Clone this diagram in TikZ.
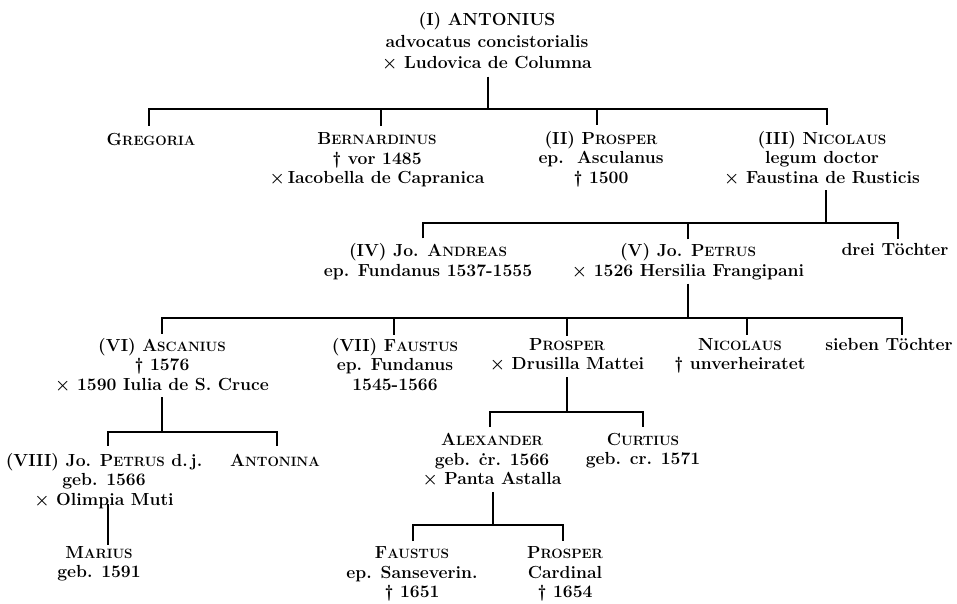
\documentclass[tikz,border=0pt]{standalone}
\newcommand\sca[2]{#1{\fontsize{13.5}{13.5}\selectfont #2}}
\begin{document}
\begin{tikzpicture}[x=1pt,y=-1pt,line width=2.8pt,
  person/.style={align=center,inner sep=0pt,
    font=\fontsize{17.5}{19.5}\selectfont\bfseries,
    execute at begin node=\strut,execute at end node=\strut},
  topperson/.style={person,font=\fontsize{17.5}{21.5}\selectfont\bfseries}]
\useasboundingbox (0,0) rectangle (957,603);

% people
\node[topperson] (I) at (487,44) {(I) ANTONIUS\\advocatus concistorialis\\× Ludovica de Columna};
\node[person] (gre) at (151,142) {\sca{G}{REGORIA}};
\node[person] (ber) at (377,161) {\sca{B}{ERNARDINUS}\\† vor 1485\\×\,Iacobella de Capranica};
\node[person] (pro2) at (601,160) {(II) \sca{P}{ROSPER}\\ep.\ \ Asculanus\\† 1500};
\node[person] (nic3) at (822,160) {(III) \sca{N}{ICOLAUS}\\legum doctor\\× Faustina de Rusticis};
\node[person] (and4) at (428,263) {(IV) Jo. \sca{A}{NDREAS}\\ep. Fundanus 1537-1555};
\node[person] (pet5) at (688,263) {(V) Jo. \sca{P}{ETRUS}\\× 1526 Hersilia Frangipani};
\node[person] (drei) at (895,252) {drei Töchter};
\node[person] (asc6) at (162,367) {(VI) \sca{A}{SCANIUS}\\† 1576\\× 1590 Iulia de S. Cruce};
\node[person] (fau7) at (395,367) {(VII) \sca{F}{AUSTUS}\\ep. Fundanus\\1545-1566};
\node[person] (prosp) at (567,357) {\sca{P}{ROSPER}\\× Drusilla Mattei};
\node[person] (nico) at (740,357) {\sca{N}{ICOLAUS}\\† unverheiratet};
\node[person] (sieben) at (889,347) {sieben Töchter};
\node[person] (pet8) at (104,482) {(VIII) Jo. \sca{P}{ETRUS} d.\,j.\\geb. 1566\\× Olimpia Muti};
\node[person] (anto) at (275,463) {\sca{A}{NTONINA}};
\node[person] (mar) at (99,565) {\sca{M}{ARIUS}\\geb. 1591};
\node[person] (alex) at (492,462) {\sca{A}{LEXANDER}\\geb. ċr. 1566\\× Panta Astalla};
\node[person] (curt) at (643,452) {\sca{C}{URTIUS}\\geb. cr. 1571};
\node[person] (fau) at (412,575) {\sca{F}{AUSTUS}\\ep. Sanseverin.\\† 1651};
\node[person] (pro) at (565,575) {\sca{P}{ROSPER}\\Cardinal\\† 1654};

% junctions on the bars
\coordinate (j0) at (488,109);
\coordinate (j1) at (826,223);
\coordinate (j2) at (688,318);
\coordinate (j3) at (162,432);
\coordinate (j4) at (567,412);
\coordinate (j5) at (493,525);

% drop ends above the children
\coordinate (gre-d) at ([shift={(-2,-5)}]gre.north);
\coordinate (ber-d) at ([shift={(4,-5)}]ber.north);
\coordinate (pro2-d) at ([shift={(-4,-5)}]pro2.north);
\coordinate (nic3-d) at ([shift={(5,-5)}]nic3.north);
\coordinate (and4-d) at ([shift={(-5,-4)}]and4.north);
\coordinate (pet5-d) at ([shift={(0,-3)}]pet5.north);
\coordinate (drei-d) at ([shift={(3,-2)}]drei.north);
\coordinate (asc6-d) at ([shift={(0,-3)}]asc6.north);
\coordinate (fau7-d) at ([shift={(-1,-2)}]fau7.north);
\coordinate (prosp-d) at ([shift={(0,-1)}]prosp.north);
\coordinate (nico-d) at ([shift={(7,-2)}]nico.north);
\coordinate (sieben-d) at ([shift={(13,-1)}]sieben.north);
\coordinate (pet8-d) at ([shift={(4,-6)}]pet8.north);
\coordinate (anto-d) at ([shift={(2,-6)}]anto.north);
\coordinate (alex-d) at ([shift={(-2,-5)}]alex.north);
\coordinate (curt-d) at ([shift={(0,-5)}]curt.north);
\coordinate (fau-d) at ([shift={(1,-4)}]fau.north);
\coordinate (pro-d) at ([shift={(-2,-4)}]pro.north);
\coordinate (mar-d) at ([shift={(9,0)}]mar.north);
\coordinate (pet8-s) at ([shift={(4,-8)}]pet8.south);

% connectors
\draw (j0 |- I.south) -- (j0);
\draw (gre-d) |- (j0) -| (nic3-d);
\draw (ber-d) -- (ber-d |- j0);
\draw (pro2-d) -- (pro2-d |- j0);

\draw (j1 |- nic3.south) -- (j1);
\draw (and4-d) |- (j1) -| (drei-d);
\draw (pet5-d) -- (pet5-d |- j1);

\draw (j2 |- pet5.south) -- (j2);
\draw (asc6-d) |- (j2) -| (sieben-d);
\draw (fau7-d) -- (fau7-d |- j2);
\draw (prosp-d) -- (prosp-d |- j2);
\draw (nico-d) -- (nico-d |- j2);

\draw (j3 |- asc6.south) -- (j3);
\draw (pet8-d) |- (j3) -| (anto-d);

\draw (pet8-s) -- (mar-d);

\draw (j4 |- prosp.south) -- (j4);
\draw (alex-d) |- (j4) -| (curt-d);

\draw (j5 |- alex.south) -- (j5);
\draw (fau-d) |- (j5) -| (pro-d);
\end{tikzpicture}
\end{document}
